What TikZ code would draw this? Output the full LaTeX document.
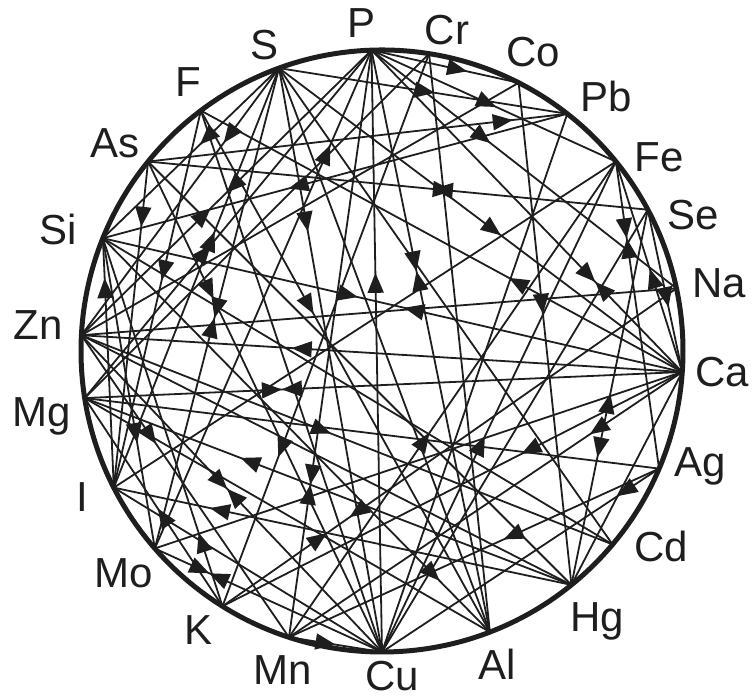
\documentclass[tikz,border=0pt]{standalone}
\usepackage{fontspec}
\setmainfont{Liberation Sans}
\usetikzlibrary{arrows.meta,decorations.markings}
\definecolor{ink}{HTML}{1E1E1E}

\tikzset{
  chord/.style={draw=ink, line width=0.9pt},
  rim/.style={draw=ink, line width=2.5pt},
  elem/.style={font=\fontsize{21}{24}\selectfont, text=ink, inner sep=0pt, anchor=base},
  fw/.style={postaction={decorate, decoration={markings,
    mark=at position #1 with {\arrow[ink]{Triangle[length=10pt,width=8pt]}}}}},
  bw/.style={postaction={decorate, decoration={markings,
    mark=at position #1 with {\arrowreversed[ink]{Triangle[length=10pt,width=8pt]}}}}},
  meet/.style={fw=#1, bw=#1}
}

\begin{document}
\begin{tikzpicture}[x=0.5pt, y=0.5pt]
\useasboundingbox (0,0) rectangle (752,699);
\coordinate (O) at (382,348);
\draw[rim] (O) circle (301);

% points on the rim
\foreach \el/\ang in {P/92, Cr/81, Co/63, Pb/52, Fe/39, Se/28, Na/12, Ca/356,
  Ag/337, Cd/320, Hg/309, Al/291, Cu/270, Mn/252, K/238, Mo/221, I/207,
  Mg/189, Zn/177, Si/158, As/141, F/127, S/110}
  \coordinate (\el) at ({382+301*cos(\ang)},{348+301*sin(\ang)});

% element labels
\foreach \el/\x/\y in {P/362/661, Cr/447/654, Co/533/632, Pb/606/587, Fe/659/527,
  Se/693/469, Na/719/401, Ca/722/312, Ag/700/222, Cd/661/137, Hg/597/67,
  Al/497/19, Cu/392/8, Mn/283/14, K/199/54, Mo/124/111, I/82/187, Mg/42/272,
  Zn/38/359, Si/58/454, As/115/541, F/188/602, S/265/639}
  \node[elem] (l\el) at (\x,\y) {\el};

% chords with arrows
\draw[chord, fw=0.63] (Cu) -- (P);
\draw[chord, fw=0.65] (Ca) -- (Zn);
\draw[chord, meet=0.67] (Ca) -- (Mg);
\draw[chord, fw=0.44, bw=0.52] (Si) -- (Ca);
\draw[chord, meet=0.38] (P) -- (Al);
\draw[chord, fw=0.65] (P) -- (Co);
\draw[chord, fw=0.51] (P) -- (Fe);
\draw[chord, fw=0.39] (P) -- (Na);
\draw[chord, fw=0.55] (S) -- (Ca);
\draw[chord, fw=0.54] (S) -- (Pb);
\draw[chord, fw=0.81] (Mo) -- (P);
\draw[chord, bw=0.57, fw=0.61] (As) -- (Se);
\draw[chord, fw=0.6] (Pb) -- (Si);
\draw[chord, fw=0.45] (S) -- (Si);
\draw[chord, fw=0.44] (Mg) -- (P);
\draw[chord, fw=0.445, bw=0.5] (Zn) -- (P);
\draw[chord, meet=0.52] (S) -- (Mo);
\draw[chord, fw=0.28] (As) -- (Cu);
\draw[chord, fw=0.66] (Si) -- (Mo);
\draw[chord, fw=0.84] (I) -- (Si);
\draw[chord, fw=0.36] (Zn) -- (Mn);
\draw[chord, fw=0.68] (Hg) -- (Mg);
\draw[chord, meet=0.485] (Zn) -- (Cu);
\draw[chord, fw=0.79] (Hg) -- (I);
\draw[chord, fw=0.47] (K) -- (Mg);
\draw[chord, fw=0.2] (K) -- (Si);
\draw[chord, meet=0.24] (Mo) -- (Cu);
\draw[chord, meet=0.74] (P) -- (Mn);
\draw[chord, fw=0.23, bw=0.28] (K) -- (Na);
\draw[chord, fw=0.87] (Si) -- (Al);
\draw[chord, fw=0.42] (Ag) -- (Mn);
\draw[chord, fw=0.15] (Ag) -- (Cu);
\draw[chord, bw=0.49, fw=0.66] (Se) -- (Hg);
\draw[chord, fw=0.235] (Ca) -- (Mn);
\draw[chord, fw=0.35] (Ca) -- (K);
\draw[chord, fw=0.36] (Ca) -- (F);
\draw[chord, meet=0.72] (P) -- (Ca);
\draw[chord, fw=0.46] (Co) -- (Hg);
\draw[chord, meet=0.25] (Fe) -- (Ag);
\draw[chord, fw=0.49] (Ca) -- (Fe);
\draw[chord, fw=0.6] (Se) -- (Ca);
\draw[chord, fw=0.47] (Zn) -- (Cd);
\draw[chord, fw=0.43] (Mn) -- (Fe);
\draw[chord, fw=0.44] (Cu) -- (Fe);
\draw[chord, fw=0.73] (Cr) -- (K);
\draw[chord, fw=0.39] (F) -- (Al);
\draw[chord, fw=0.28] (S) -- (Cu);
\draw[chord, fw=0.2] (As) -- (I);
\draw[chord, fw=0.61] (I) -- (S);
\draw[chord, fw=0.87] (As) -- (Pb);
\draw[chord, fw=0.28] (S) -- (Zn);
\draw[chord, fw=0.45] (F) -- (I);
\draw[chord, fw=0.5] (Mn) -- (Cu);

% plain chords
\foreach \a/\b in {Zn/Na, Zn/Hg, Mg/Al, Mg/Ag, Si/Cd, I/Cu, I/Fe, Mo/Ca,
  Cu/Se, Al/Cr, Hg/As, Hg/Ca, Cd/S, Co/Zn, Cr/Mg, F/Cu, S/Al, Pb/Cu}
  \draw[chord] (\a) -- (\b);
\end{tikzpicture}
\end{document}
